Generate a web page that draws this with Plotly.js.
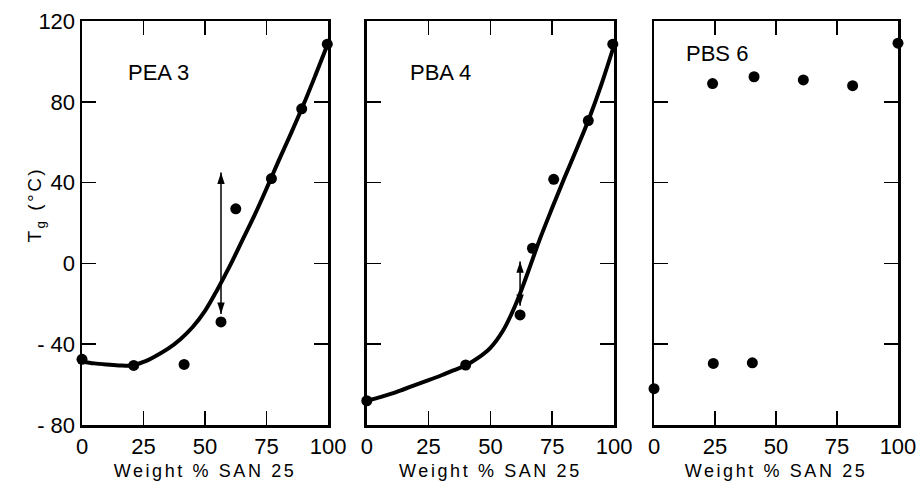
<!DOCTYPE html>
<html>
<head>
<meta charset="utf-8">
<script src="https://cdn.plot.ly/plotly-3.0.1.min.js"></script>
<style>
  html, body { margin: 0; padding: 0; background: #fff; }
  #chart { width: 917px; height: 483px; }
  .xtitle, .x2title, .x3title { letter-spacing: 2.6px; }
  .annotation[data-index="0"] text { letter-spacing: 2.5px; }
</style>
</head>
<body>
<div id="chart"></div>
<script>
// ---- Data ----
const xTickVals = [0, 25, 50, 75, 100];
const yTickVals = [-80, -40, 0, 40, 80, 120];
const panelNames = ["PEA 3", "PBA 4", "PBS 6"];
const xTitle = "Weight % SAN 25";
const yTitle = "T<sub>g</sub> (°C)";

// Panel 1: PEA 3
const peaX = [0, 21, 41.5, 56.5, 62.5, 77, 89.3, 99.7];
const peaY = [-47.5, -50.5, -50, -29, 27, 42, 76.5, 108.5];
const peaCurveX = [0, 5, 10, 15, 20, 25, 30, 35, 40, 45, 50, 55, 60, 65, 70, 75, 80, 85, 90, 95, 100];
const peaCurveY = [-48.5, -49.5, -50.1, -50.5, -50.6, -48.8, -45.8, -42.2, -37.5, -31.5, -23.5, -13, -1.5, 11, 23.5, 37, 51, 64.5, 78.5, 93.5, 109];
const peaArrowX = [56.5, 56.5];
const peaArrowY = [-25, 45];     // low end, high end

// Panel 2: PBA 4
const pbaX = [0, 40, 62, 67, 75.6, 89.6, 99.5];
const pbaY = [-68, -50.3, -25.5, 7.5, 41.6, 70.7, 108.5];
const pbaCurveX = [0, 5, 10, 15, 20, 25, 30, 35, 40, 45, 50, 55, 60, 65, 70, 75, 80, 85, 90, 95, 100];
const pbaCurveY = [-68, -66.3, -64.5, -62.3, -60, -57.8, -55.5, -53, -50.5, -46.8, -41.8, -33.5, -21, -5, 12, 27.5, 42.5, 57, 72, 89, 108];
const pbaArrowX = [62, 62];
const pbaArrowY = [-21, 1];      // low end, high end

// Panel 3: PBS 6
const pbsX = [0, 24, 24.3, 40.3, 41, 61.2, 81.4, 100];
const pbsY = [-62, 89, -49.5, -49.2, 92.4, 90.8, 88, 109];

// ---- Chart ----
const FONT = "Liberation Sans, Arial, sans-serif";
const black = "#000";

function curve(x, y, ax, ay) {
  return { x: x, y: y, xaxis: ax, yaxis: ay, mode: "lines", type: "scatter",
    line: { color: black, width: 4, shape: "spline", smoothing: 1 },
    hoverinfo: "skip", showlegend: false, cliponaxis: false };
}
function dots(x, y, ax, ay) {
  return { x: x, y: y, xaxis: ax, yaxis: ay, mode: "markers", type: "scatter",
    marker: { color: black, size: 11 }, showlegend: false, cliponaxis: false };
}
function arrow(x, y, ax, ay) {
  return { x: x, y: y, xaxis: ax, yaxis: ay, mode: "lines+markers", type: "scatter",
    line: { color: black, width: 1.5 },
    marker: { symbol: "arrow", size: 12, angle: [180, 0], color: black },
    showlegend: false, cliponaxis: false, hoverinfo: "skip" };
}

const traces = [
  arrow(peaArrowX, peaArrowY, "x", "y"),
  curve(peaCurveX, peaCurveY, "x", "y"),
  dots(peaX, peaY, "x", "y"),
  arrow(pbaArrowX, pbaArrowY, "x2", "y2"),
  curve(pbaCurveX, pbaCurveY, "x2", "y2"),
  dots(pbaX, pbaY, "x2", "y2"),
  dots(pbsX, pbsY, "x3", "y3")
];

function xAxis(domain, anchor) {
  return {
    domain: domain, anchor: anchor, range: [0, 100],
    tickvals: xTickVals, ticktext: xTickVals.map(String),
    ticks: "inside", ticklen: 14, tickwidth: 1.5, tickcolor: black,
    showline: true, linecolor: black, linewidth: 2.5, mirror: "ticks",
    showgrid: false, zeroline: false, fixedrange: true,
    tickfont: { family: FONT, size: 22, color: black },
    title: { text: xTitle, font: { family: FONT, size: 18, color: black }, standoff: 7 }
  };
}
function yAxis(anchor, showLabels) {
  return {
    anchor: anchor, domain: [0, 1], range: [-80, 120],
    tickvals: yTickVals, ticktext: yTickVals.map(v => v < 0 ? "- " + Math.abs(v) : String(v)),
    ticks: "inside", ticklen: 14, tickwidth: 1.5, tickcolor: black,
    showline: true, linecolor: black, linewidth: 2.5, mirror: "ticks",
    showgrid: false, zeroline: false, fixedrange: true, showticklabels: showLabels,
    tickfont: { family: FONT, size: 22, color: black }
  };
}

const annotations = [
  { text: yTitle, xref: "paper", yref: "paper", x: -0.0735, y: 0.545, textangle: -90,
    showarrow: false, font: { family: FONT, size: 19, color: black } },
  { text: panelNames[0], xref: "x", yref: "y", x: 31, y: 94.3, showarrow: false,
    font: { family: FONT, size: 22, color: black } },
  { text: panelNames[1], xref: "x2", yref: "y2", x: 30, y: 94.3, showarrow: false,
    font: { family: FONT, size: 22, color: black } },
  { text: panelNames[2], xref: "x3", yref: "y3", x: 26, y: 104, showarrow: false,
    font: { family: FONT, size: 22, color: black } }
];

const layout = {
  width: 917, height: 483,
  margin: { l: 82, r: 19, t: 21, b: 58 },
  paper_bgcolor: "#fff", plot_bgcolor: "#fff",
  font: { family: FONT, color: black },
  showlegend: false,
  xaxis: xAxis([0, 0.3015], "y"),
  yaxis: yAxis("x", true),
  xaxis2: xAxis([0.349, 0.652], "y2"),
  yaxis2: yAxis("x2", false),
  xaxis3: xAxis([0.701, 1], "y3"),
  yaxis3: yAxis("x3", false),
  annotations: annotations
};

Plotly.newPlot("chart", traces, layout, { displayModeBar: false, staticPlot: true });
</script>
</body>
</html>
